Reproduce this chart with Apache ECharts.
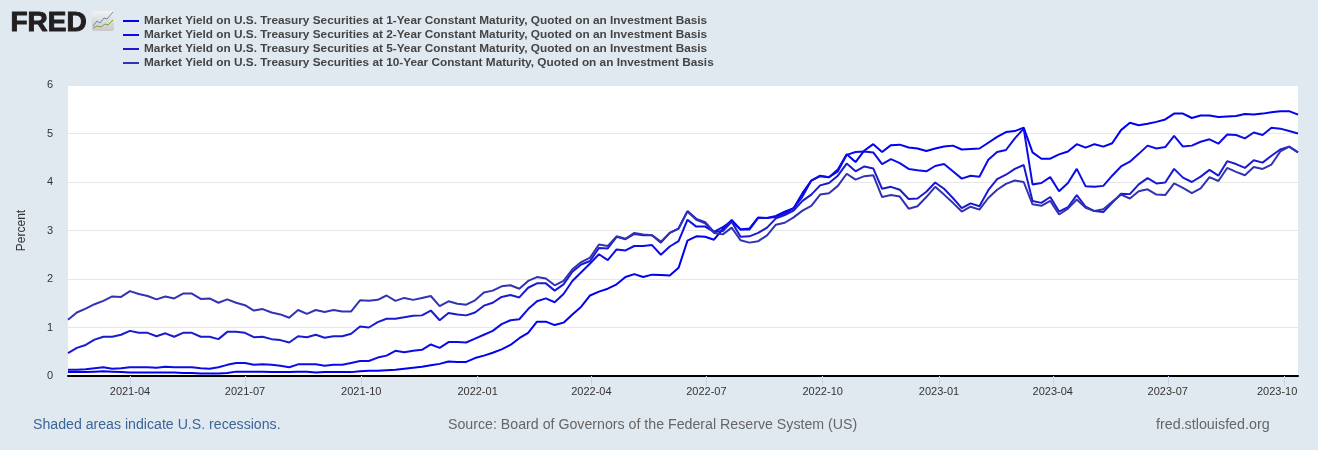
<!DOCTYPE html>
<html><head><meta charset="utf-8">
<style>html,body{margin:0;padding:0;background:#e1e9f0}#c{width:1318px;height:450px}</style>
<script src="https://cdn.jsdelivr.net/npm/echarts@6/dist/echarts.min.js"></script>
</head><body><div id="c"></div>
<script>
const weekCount = 140;
const tickLabels = ['2021-04','2021-07','2021-10','2022-01','2022-04','2022-07','2022-10','2023-01','2023-04','2023-07','2023-10'];
const names = [
 'Market Yield on U.S. Treasury Securities at 1-Year Constant Maturity, Quoted on an Investment Basis',
 'Market Yield on U.S. Treasury Securities at 2-Year Constant Maturity, Quoted on an Investment Basis',
 'Market Yield on U.S. Treasury Securities at 5-Year Constant Maturity, Quoted on an Investment Basis',
 'Market Yield on U.S. Treasury Securities at 10-Year Constant Maturity, Quoted on an Investment Basis'];
const y1 = [.08,.08,.08,.09,.10,.09,.08,.07,.07,.07,.07,.07,.07,.06,.06,.05,.05,.05,.06,.09,.09,.09,.09,.08,.08,.08,.09,.09,.07,.08,.08,.08,.08,.10,.11,.11,.12,.13,.15,.17,.19,.22,.25,
 .30,.29,.29,.37,.42,.48,.55,.64,.78,.89,1.12,1.12,1.05,1.10,1.27,1.43,1.66,1.74,1.80,1.89,2.04,2.10,2.04,2.09,2.08,
 2.07,2.23,2.79,2.88,2.87,2.81,3.03,3.22,3.02,3.04,3.27,3.26,3.30,3.39,3.46,3.77,4.03,4.12,4.10,4.26,4.57,4.41,4.65,4.78,
 4.62,4.76,4.77,4.71,4.69,4.64,4.69,4.73,4.75,4.67,4.68,4.69,4.81,4.93,5.03,5.05,5.12,4.61,4.48,4.48,4.57,4.63,4.78,
 4.71,4.78,4.73,4.80,5.07,5.22,5.17,5.20,5.24,5.29,5.41,5.41,5.32,5.37,5.37,5.34,5.35,5.36,5.40,5.39,5.41,5.44,5.46,5.46,5.39];
const y2 = [.13,.13,.14,.16,.18,.15,.16,.18,.18,.18,.17,.19,.18,.18,.18,.16,.15,.18,.23,.27,.27,.23,.24,.23,.21,.18,.24,.24,.24,.21,.23,.23,.27,.31,.31,.38,.42,.52,.49,.52,.54,.65,.58,
 .70,.70,.69,.77,.85,.93,1.07,1.15,1.17,1.38,1.54,1.60,1.52,1.69,1.96,2.14,2.32,2.51,2.39,2.61,2.59,2.68,2.68,2.70,2.50,
 2.67,2.78,3.22,3.08,3.08,2.97,3.07,3.19,3.02,3.02,3.26,3.26,3.28,3.35,3.46,3.70,4.03,4.13,4.10,4.22,4.56,4.62,4.63,4.61,
 4.37,4.47,4.39,4.27,4.24,4.22,4.33,4.37,4.22,4.07,4.13,4.11,4.46,4.62,4.66,4.90,5.10,3.95,3.98,4.10,3.81,3.98,4.27,
 3.91,3.90,3.92,4.13,4.32,4.42,4.58,4.75,4.69,4.72,4.95,4.73,4.75,4.83,4.88,4.79,4.98,4.97,4.90,5.02,4.97,5.12,5.10,5.05,5.00];
const y5 = [.47,.58,.64,.75,.81,.81,.85,.93,.89,.89,.82,.88,.81,.89,.89,.81,.81,.76,.91,.91,.89,.80,.81,.76,.74,.69,.82,.80,.85,.79,.82,.82,.87,1.02,1.00,1.11,1.18,1.18,1.21,1.24,1.25,1.35,1.15,
 1.30,1.27,1.25,1.31,1.45,1.51,1.63,1.67,1.62,1.82,1.91,1.91,1.76,1.89,2.15,2.30,2.37,2.64,2.63,2.87,2.82,2.93,2.90,2.90,2.75,
 2.95,3.04,3.40,3.24,3.17,2.97,2.99,3.18,2.87,2.88,2.95,3.06,3.25,3.32,3.41,3.61,3.74,3.93,3.98,4.13,4.38,4.22,4.32,4.28,
 3.86,3.90,3.84,3.65,3.66,3.80,3.99,3.86,3.67,3.46,3.56,3.50,3.83,4.06,4.15,4.27,4.35,3.61,3.57,3.69,3.39,3.48,3.73,
 3.49,3.40,3.38,3.57,3.76,3.75,3.95,4.08,3.97,3.99,4.27,4.09,4.00,4.11,4.25,4.13,4.43,4.37,4.29,4.45,4.40,4.54,4.67,4.73,4.61];
const y10 = [1.16,1.31,1.39,1.48,1.55,1.64,1.63,1.75,1.69,1.65,1.58,1.64,1.60,1.70,1.70,1.59,1.60,1.51,1.58,1.51,1.46,1.35,1.38,1.31,1.27,1.20,1.36,1.28,1.36,1.32,1.36,1.33,1.33,1.56,1.55,1.57,1.66,1.55,1.61,1.57,1.61,1.65,1.44,
 1.54,1.49,1.47,1.56,1.72,1.76,1.85,1.87,1.80,1.96,2.04,2.01,1.87,1.96,2.20,2.35,2.44,2.71,2.68,2.88,2.83,2.95,2.92,2.90,2.77,
 2.95,3.04,3.39,3.22,3.15,2.95,2.92,3.06,2.80,2.75,2.78,2.90,3.12,3.16,3.27,3.41,3.51,3.74,3.77,3.92,4.17,4.05,4.12,4.14,
 3.69,3.73,3.70,3.45,3.50,3.69,3.90,3.74,3.57,3.39,3.49,3.43,3.67,3.84,3.96,4.03,4.00,3.54,3.51,3.61,3.33,3.45,3.64,
 3.47,3.40,3.44,3.59,3.74,3.66,3.81,3.85,3.74,3.73,3.97,3.88,3.77,3.87,4.10,4.02,4.29,4.21,4.14,4.31,4.27,4.36,4.63,4.73,4.61];
const colors = ['#0000f0','#0c0ce6','#1a1ad2','#3232b4'];

const DAY = 86400000;
const t0 = Date.UTC(2021,1,11);
const dates = Array.from({length: weekCount}, (_, i) => t0 + i * 7 * DAY);
const tickTimes = tickLabels.map(s => { const [y,m] = s.split('-').map(Number); return Date.UTC(y, m-1, 1); });
const labelOf = v => { const d = new Date(v); return d.getUTCFullYear() + '-' + String(d.getUTCMonth()+1).padStart(2,'0'); };
const FONT = '"Liberation Sans", Arial, sans-serif';

const chart = echarts.init(document.getElementById('c'), null, {renderer:'canvas'});
chart.setOption({
  animation:false,
  backgroundColor:'#e1e9f0',
  textStyle:{fontFamily:FONT},
  grid:{left:68,right:20,top:85,height:291,show:true,backgroundColor:'#fff',borderWidth:0,containLabel:false},
  legend:{show:true,orient:'vertical',left:123,top:15,itemWidth:16,itemHeight:12,itemGap:2,padding:0,
    icon:'path://M0 5H16V7H0Z',
    textStyle:{fontFamily:FONT,fontSize:11.8,fontWeight:'bold',color:'#444'},
    data:names},
  xAxis:{type:'value',min:dates[0],max:dates[dates.length-1],scale:true,
    axisLine:{show:true,lineStyle:{color:'#000',width:2}},
    axisTick:{show:true,length:10,lineStyle:{color:'#ccd6eb',width:1},customValues:tickTimes},
    axisLabel:{show:true,customValues:tickTimes,hideOverlap:false,margin:10,fontFamily:FONT,fontSize:11,color:'#333',
      formatter:v=>{const s=labelOf(v);return s==='2023-10'?'{e|'+s+'}':s;},
      rich:{e:{padding:[0,14,0,0],fontFamily:FONT,fontSize:11,color:'#333'}}},
    splitLine:{show:false}},
  yAxis:{type:'value',min:0,max:6,interval:1,name:'Percent',nameLocation:'middle',nameGap:40,nameRotate:90,
    nameTextStyle:{fontFamily:FONT,fontSize:12,color:'#333'},
    axisLine:{show:false},axisTick:{show:false},
    axisLabel:{margin:15,padding:[2,0,0,0],fontFamily:FONT,fontSize:11,color:'#333'},
    splitLine:{show:true,lineStyle:{color:'#e6e6e6',width:1}}},
  series:[y1,y2,y5,y10].map((v,k)=>({
    name:names[k],type:'line',symbol:'none',showSymbol:false,smooth:false,clip:true,
    itemStyle:{color:colors[k]},lineStyle:{color:colors[k],width:2},
    data:v.map((y,i)=>[dates[i],y])
  })),
  graphic:[
    {type:'text',left:10,top:9,style:{text:'FRED',font:'bold 28px "Liberation Sans", Arial, sans-serif',fill:'#231f20',stroke:'#231f20',lineWidth:1}},
    {type:'rect',shape:{x:92,y:11,width:22,height:20,r:2},style:{fill:new echarts.graphic.LinearGradient(0,0,0,1,[{offset:0,color:'#f2f2f2'},{offset:1,color:'#c8c8c8'}])}},
    {type:'polyline',shape:{points:[[93,26],[97,21],[100,23],[104,18],[107,19],[113,12]]},style:{stroke:'#5a8fb5',lineWidth:1,fill:null}},
    {type:'polyline',shape:{points:[[93,28],[97,26],[101,27],[105,24],[108,25],[113,20]]},style:{stroke:'#7aa040',lineWidth:1,fill:null}},
    {type:'text',left:33,top:418,style:{text:'Shaded areas indicate U.S. recessions.',font:'14.15px "Liberation Sans", Arial, sans-serif',fill:'#3a6598'}},
    {type:'text',left:448,top:418,style:{text:'Source: Board of Governors of the Federal Reserve System (US)',font:'14.2px "Liberation Sans", Arial, sans-serif',fill:'#666'}},
    {type:'text',left:1156,top:418,style:{text:'fred.stlouisfed.org',font:'14.3px "Liberation Sans", Arial, sans-serif',fill:'#666'}}
  ]
});
</script></body></html>
